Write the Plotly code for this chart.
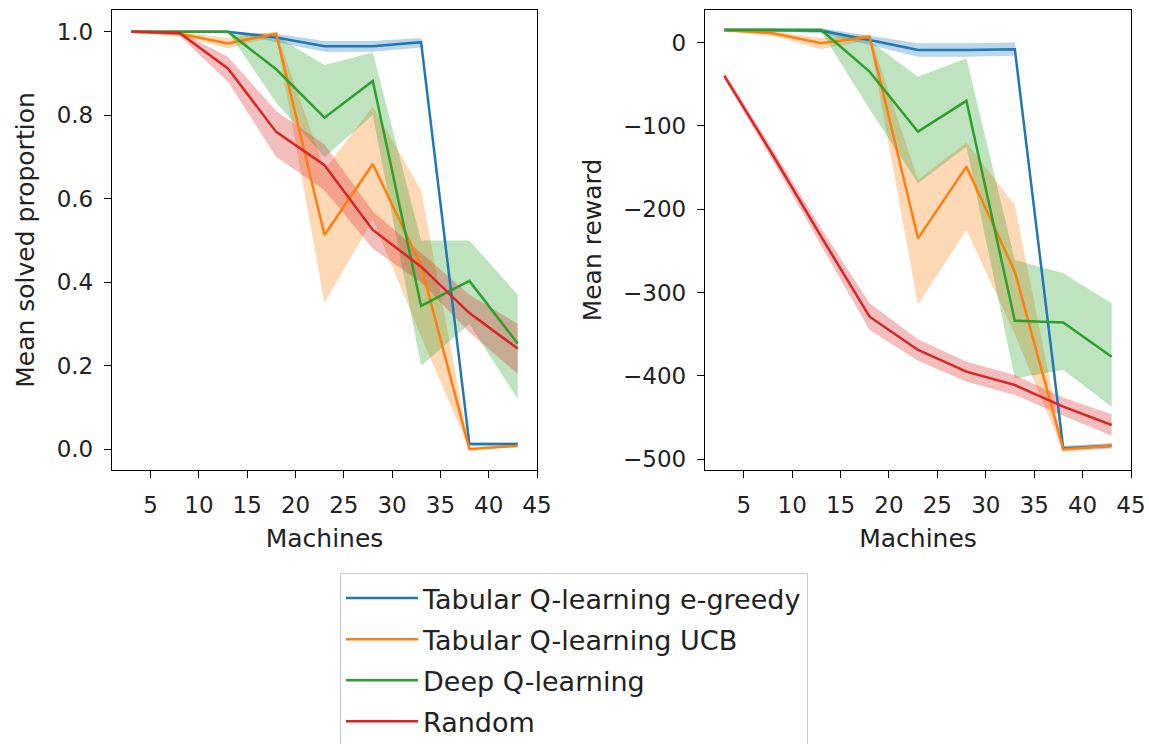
import plotly.graph_objects as go

machines = [3, 8, 13, 18, 23, 28, 33, 38, 43]
names = ["Tabular Q-learning e-greedy", "Tabular Q-learning UCB", "Deep Q-learning", "Random"]
colors = ["#1f77b4", "#ff7f0e", "#2ca02c", "#d62728"]
bands = ["rgba(31,119,180,0.3)", "rgba(255,127,14,0.3)", "rgba(44,160,44,0.3)", "rgba(214,39,40,0.3)"]

# Left: mean solved proportion
sol_egreedy = [1.0, 1.0, 1.0, 0.986, 0.965, 0.965, 0.975, 0.012, 0.012]
sol_egreedy_lo = [1.0, 1.0, 0.998, 0.975, 0.952, 0.952, 0.962, 0.008, 0.008]
sol_egreedy_hi = [1.0, 1.0, 1.0, 0.995, 0.978, 0.978, 0.985, 0.016, 0.016]
sol_ucb = [1.0, 0.995, 0.972, 0.995, 0.513, 0.683, 0.44, 0.0, 0.008]
sol_ucb_lo = [1.0, 0.99, 0.96, 0.99, 0.35, 0.55, 0.27, 0.0, 0.004]
sol_ucb_hi = [1.0, 1.0, 0.985, 1.0, 0.67, 0.82, 0.62, 0.005, 0.012]
sol_dqn = [1.0, 1.0, 1.0, 0.91, 0.794, 0.882, 0.343, 0.403, 0.253]
sol_dqn_lo = [1.0, 1.0, 1.0, 0.83, 0.70, 0.80, 0.20, 0.30, 0.12]
sol_dqn_hi = [1.0, 1.0, 1.0, 0.99, 0.92, 0.95, 0.50, 0.50, 0.37]
sol_rand = [1.0, 0.997, 0.912, 0.76, 0.68, 0.525, 0.437, 0.326, 0.241]
sol_rand_lo = [1.0, 0.99, 0.88, 0.70, 0.62, 0.48, 0.40, 0.28, 0.18]
sol_rand_hi = [1.0, 1.0, 0.94, 0.81, 0.73, 0.57, 0.47, 0.37, 0.30]

# Right: mean reward
rew_egreedy = [15, 15, 14, 3, -9, -9, -8, -487, -484]
rew_egreedy_lo = [13, 13, 11, -3, -17, -17, -16, -490, -487]
rew_egreedy_hi = [17, 17, 17, 8, -1, -1, 0, -484, -481]
rew_ucb = [15, 11, -1, 7, -235, -149, -275, -488, -484]
rew_ucb_lo = [13, 8, -8, 3, -315, -225, -350, -491, -487]
rew_ucb_hi = [17, 14, 5, 10, -165, -120, -195, -485, -481]
rew_dqn = [15, 15, 15, -35, -107, -70, -334, -336, -377]
rew_dqn_lo = [13, 13, 13, -80, -169, -125, -403, -393, -437]
rew_dqn_hi = [17, 17, 17, 2, -41, -19, -261, -277, -313]
rew_rand = [-40, -135, -233, -329, -369, -395, -411, -437, -459]
rew_rand_lo = [-44, -142, -243, -345, -382, -407, -423, -448, -472]
rew_rand_hi = [-36, -128, -223, -313, -356, -383, -399, -426, -446]

left = [(sol_egreedy, sol_egreedy_lo, sol_egreedy_hi), (sol_ucb, sol_ucb_lo, sol_ucb_hi),
        (sol_dqn, sol_dqn_lo, sol_dqn_hi), (sol_rand, sol_rand_lo, sol_rand_hi)]
right = [(rew_egreedy, rew_egreedy_lo, rew_egreedy_hi), (rew_ucb, rew_ucb_lo, rew_ucb_hi),
         (rew_dqn, rew_dqn_lo, rew_dqn_hi), (rew_rand, rew_rand_lo, rew_rand_hi)]

fig = go.Figure()
for panel, (xa, ya, series) in enumerate([("x", "y", left), ("x2", "y2", right)]):
    for i, (m, lo, hi) in enumerate(series):
        fig.add_trace(go.Scatter(
            x=machines + machines[::-1], y=hi + lo[::-1], xaxis=xa, yaxis=ya,
            fill="toself", fillcolor=bands[i], line=dict(width=0), mode="lines",
            hoverinfo="skip", showlegend=False, legendgroup=f"g{i}"))
    for i, (m, lo, hi) in enumerate(series):
        fig.add_trace(go.Scatter(
            x=machines, y=m, xaxis=xa, yaxis=ya, mode="lines", name=names[i],
            legendgroup=f"g{i}",
            line=dict(color=colors[i], width=2.5), showlegend=(panel == 0)))

font = "DejaVu Sans, sans-serif"
axis_common = dict(showline=True, linecolor="black", linewidth=1.3, mirror=True,
                   ticks="outside", ticklen=7, tickwidth=1.3, tickcolor="black",
                   showgrid=False, zeroline=False, tickfont=dict(size=23, color="#222"))
xcommon = dict(axis_common, range=[1, 45], tick0=5, dtick=5, ticklabelstandoff=7,
               title=dict(text="Machines", font=dict(size=25, color="#222"), standoff=12))

fig.update_layout(
    width=1149, height=744, margin=dict(l=0, r=0, t=0, b=0, autoexpand=False),
    paper_bgcolor="white", plot_bgcolor="white",
    font=dict(family=font, color="#222"),
    xaxis=dict(xcommon, domain=[112 / 1149, 537 / 1149], anchor="y"),
    xaxis2=dict(xcommon, domain=[705 / 1149, 1131 / 1149], anchor="y2"),
    yaxis=dict(axis_common, domain=[1 - 470 / 744, 1 - 10 / 744], anchor="x",
               range=[-0.05, 1.052], tick0=0, dtick=0.2, tickformat=".1f", ticklabelstandoff=6,
               title=dict(text="Mean solved proportion", font=dict(size=25, color="#222"), standoff=14)),
    yaxis2=dict(axis_common, domain=[1 - 470 / 744, 1 - 10 / 744], anchor="x2",
                range=[-513, 39], tick0=0, dtick=100, ticklabelstandoff=6,
                title=dict(text="Mean reward", font=dict(size=25, color="#222"), standoff=14)),
    legend=dict(x=340 / 1149, y=1 - 573 / 744, xanchor="left", yanchor="top",
                bordercolor="#cccccc", borderwidth=1, bgcolor="white",
                traceorder="grouped", tracegroupgap=3, itemwidth=72,
                font=dict(size=27, color="#222")),
)

fig.write_html("out.html")
